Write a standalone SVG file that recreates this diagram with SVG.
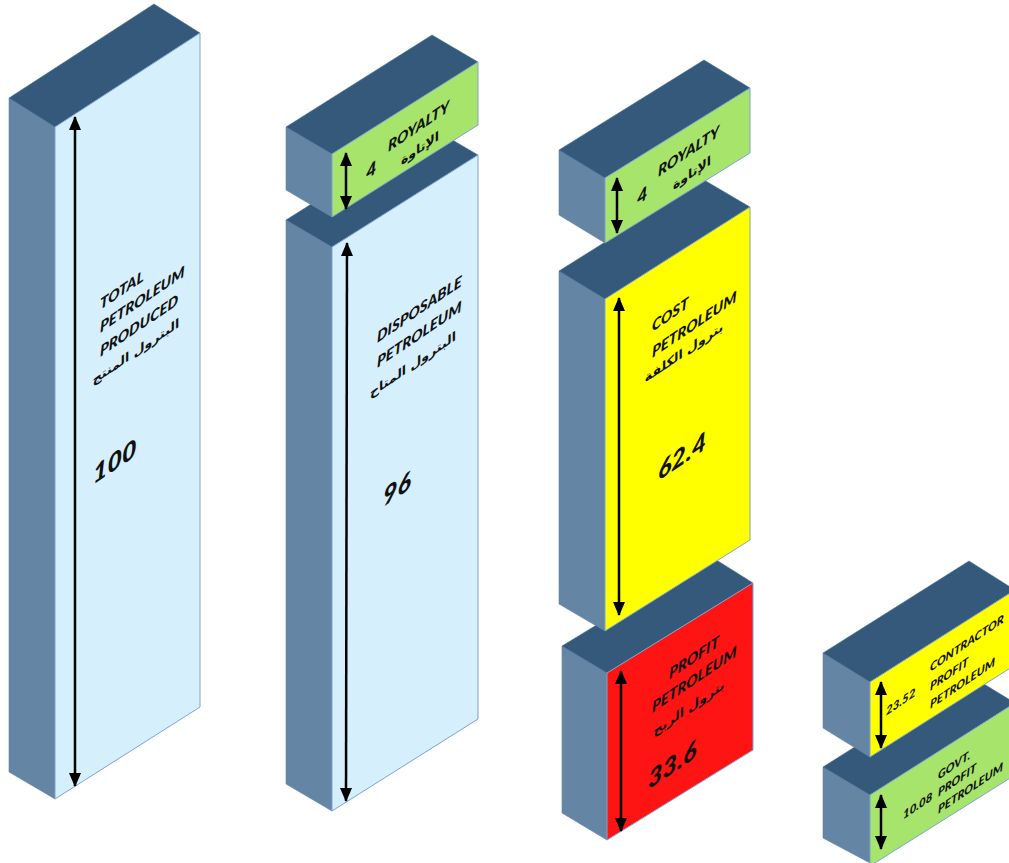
<svg xmlns="http://www.w3.org/2000/svg" width="1009" height="863" viewBox="0 0 1009 863">
<style>
.top{fill:#34597a;stroke:#4a7299;stroke-width:0.6}
.side{fill:#6585a4;stroke:#6585a4;stroke-width:0.6}
.front{stroke:#7ba3d3;stroke-width:1}
.blue{fill:#d5effd}
.green{fill:#a6e46b}
.yellow{fill:#ffff00}
.red{fill:#ff1414}
.lbl{font-family:Lato,"Open Sans",sans-serif;font-weight:900;font-style:italic;font-size:15px;fill:#111}
.ar{font-family:"DejaVu Sans","Noto Sans",sans-serif;font-weight:bold;font-size:12.5px;fill:#111;text-anchor:middle}
.num{font-family:Lato,"Open Sans",sans-serif;font-weight:900;font-style:italic;font-size:25px;fill:#111}
.sm{font-size:11.5px}
.four{font-size:18px}
.dim{stroke:#000;stroke-width:2.5;fill:none;marker-start:url(#ah);marker-end:url(#ah)}
</style>
<defs>
<marker id="ah" viewBox="0 0 14 12" refX="13" refY="6" markerWidth="14" markerHeight="12" markerUnits="userSpaceOnUse" orient="auto-start-reverse">
<path d="M0,0 L14,6 L0,12 Z" fill="#000"/>
</marker>
</defs>
<rect width="1009" height="863" fill="#fff"/>

<g id="total">
<polygon class="side" points="9,98 55,127 55,799 9,772"/>
<polygon class="top" points="9,98 154,4 200,33 55,127"/>
<polygon class="front blue" points="55,127 200,33 200,707 55,799"/>
<g transform="translate(100,310) skewY(-34)">
<text class="lbl" x="0" y="0">TOTAL</text>
<text class="lbl" x="0" y="23">PETROLEUM</text>
<text class="lbl" x="0" y="47">PRODUCED</text>
<text class="ar" x="36" y="70">البترول المنتج</text>
<text class="num" x="-7" y="170">100</text>
</g>
</g>

<g id="disposable">
<polygon class="side" points="286,220 332,247 332,811 286,784"/>
<polygon class="top" points="286,220 432,128 478,155 332,247"/>
<polygon class="front blue" points="332,247 478,155 478,719 332,811"/>
<g transform="translate(377,343) skewY(-34)">
<text class="lbl" x="0" y="0">DISPOSABLE</text>
<text class="lbl" x="0" y="25">PETROLEUM</text>
<text class="ar" x="36" y="50">البترول المتاح</text>
<text class="num" x="6" y="168">96</text>
</g>
</g>

<g id="royalty1">
<polygon class="side" points="286,127 332,154 332,217 286,190"/>
<polygon class="top" points="286,127 432,35 478,62 332,154"/>
<polygon class="front green" points="332,154 478,62 478,125 332,217"/>
<g transform="translate(388,152) skewY(-34)">
<text class="lbl" x="0" y="0">ROYALTY</text>
<text class="ar" x="32" y="22">الإتاوة</text>
<text class="lbl four" x="-22" y="13">4</text>
</g>
</g>

<g id="profit">
<polygon class="side" points="562,646 607,673 607,840 562,813"/>
<polygon class="top" points="562,646 710,556 753,583 607,673"/>
<polygon class="front red" points="607,673 753,583 753,750 607,840"/>
<g transform="translate(652,713) skewY(-34)">
<text class="lbl" x="17" y="-22">PROFIT</text>
<text class="lbl" x="0" y="0">PETROLEUM</text>
<text class="ar" x="37" y="24">بترول الربح</text>
<text class="num" x="-4" y="74">33.6</text>
</g>
</g>

<g id="cost">
<polygon class="side" points="559,271 605,299 605,631 559,604"/>
<polygon class="top" points="559,271 704,180 750,207 605,299"/>
<polygon class="front yellow" points="605,299 750,207 750,540 605,631"/>
<g transform="translate(652,332) skewY(-34)">
<text class="lbl" x="0" y="0">COST</text>
<text class="lbl" x="0" y="26">PETROLEUM</text>
<text class="ar" x="32" y="46">بترول الكلفة</text>
<text class="num" x="6" y="153">62.4</text>
</g>
</g>

<g id="royalty2">
<polygon class="side" points="559,150 605,178 605,243 559,215"/>
<polygon class="top" points="559,150 704,60 750,88 605,178"/>
<polygon class="front green" points="605,178 750,88 750,153 605,243"/>
<g transform="translate(658,177) skewY(-34)">
<text class="lbl" x="0" y="0">ROYALTY</text>
<text class="ar" x="34" y="23">الإتاوة</text>
<text class="lbl four" x="-21" y="14">4</text>
</g>
</g>

<g id="govt">
<polygon class="side" points="823,767 870,795 870,863 823,838"/>
<polygon class="top" points="823,767 969,675 1015,703 870,795"/>
<polygon class="front green" points="870,795 1015,703 1015,775 870,866"/>
<g transform="translate(938,780) skewY(-34)">
<text class="lbl sm" x="0" y="0">GOVT.</text>
<text class="lbl sm" x="0" y="17">PROFIT</text>
<text class="lbl sm" x="0" y="34">PETROLEUM</text>
<text class="lbl sm" x="-35" y="16">10.08</text>
</g>
</g>

<g id="contractor">
<polygon class="side" points="823,653 870,682 870,757 823,728"/>
<polygon class="top" points="823,653 969,561 1015,590 870,682"/>
<polygon class="front yellow" points="870,682 1015,590 1015,665 870,757"/>
<g transform="translate(930,672) skewY(-34)">
<text class="lbl sm" x="0" y="0">CONTRACTOR</text>
<text class="lbl sm" x="0" y="19">PROFIT</text>
<text class="lbl sm" x="0" y="37">PETROLEUM</text>
<text class="lbl sm" x="-44" y="14">23.52</text>
</g>
</g>

<g id="connectors">
<line class="dim" x1="75" y1="117" x2="75" y2="786"/>
<line class="dim" x1="346" y1="153" x2="346" y2="209"/>
<line class="dim" x1="347" y1="243" x2="346" y2="801"/>
<line class="dim" x1="617" y1="178" x2="617" y2="233"/>
<line class="dim" x1="619" y1="298" x2="619" y2="615"/>
<line class="dim" x1="621" y1="671" x2="621" y2="831"/>
<line class="dim" x1="881" y1="682" x2="881" y2="748"/>
<line class="dim" x1="881" y1="795" x2="881" y2="849"/>
</g>
</svg>
